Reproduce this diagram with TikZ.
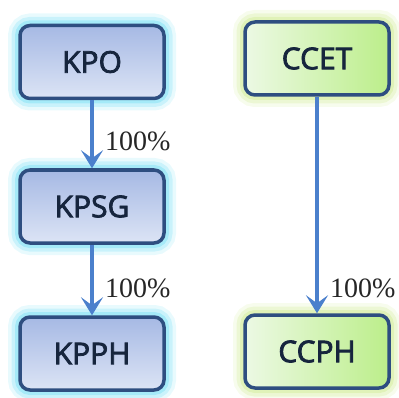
\documentclass[tikz,border=0pt]{standalone}
\usepackage{fontspec}
\setmainfont{Liberation Serif}
\newfontfamily\boxfont[FakeBold=2.5]{Open Sans}
\usetikzlibrary{arrows.meta}
\definecolor{boxline}{HTML}{2E4E80}
\definecolor{boxtext}{HTML}{16253D}
\definecolor{arrowc}{HTML}{4B80CC}
\definecolor{blueglow}{HTML}{8EE4F6}
\definecolor{greenglow}{HTML}{D8EFA6}
\definecolor{bluetop}{HTML}{A6B9E4}
\definecolor{bluebot}{HTML}{DCE4F5}
\definecolor{greenl}{HTML}{ECF9E4}
\definecolor{greenr}{HTML}{BCEE8A}
\tikzset{
  x=1pt, y=1pt,
  unit/.style={rounded corners=10pt, draw=boxline, line width=3.5pt,
    minimum width=144pt, minimum height=73pt, inner sep=0pt,
    font=\boxfont\fontsize{30}{30}\selectfont, text=boxtext},
  bluebox/.style={unit, top color=bluetop, bottom color=bluebot,
    preaction={draw=blueglow, line width=24pt, opacity=0.2},
    preaction={draw=blueglow, line width=17pt, opacity=0.35},
    preaction={draw=blueglow, line width=10pt, opacity=0.6}},
  greenbox/.style={unit, left color=greenl, right color=greenr,
    preaction={draw=greenglow, line width=24pt, opacity=0.2},
    preaction={draw=greenglow, line width=17pt, opacity=0.35},
    preaction={draw=greenglow, line width=10pt, opacity=0.6}},
  link/.style={draw=arrowc, line width=4pt,
    -{Stealth[length=18pt, width=22pt, inset=8pt]}},
  pct/.style={font=\fontsize{28}{28}\selectfont, text=black!85, anchor=west, inner sep=0pt}
}
\begin{document}
\begin{tikzpicture}
\useasboundingbox (0,0) rectangle (399,397);
% holding chain on the left
\node[bluebox] (kpo)  at (92,335) {KPO};
\node[bluebox] (kpsg) at (92,190.5) {KPSG};
\node[bluebox] (kpph) at (92,43.5) {KPPH};
% chain on the right
\node[greenbox] (ccet) at (317,338.5) {CCET};
\node[greenbox] (ccph) at (317,45.5) {CCPH};
% ownership links
\draw[link] (kpo.south) -- (kpsg.north);
\draw[link] (kpsg.south) -- (kpph.north);
\draw[link] (ccet.south) -- (ccph.north);
\node[pct] (p1) at (105,256) {100\%};
\node[pct] (p2) at (105,109) {100\%};
\node[pct] (p3) at (330,109) {100\%};
\end{tikzpicture}
\end{document}
